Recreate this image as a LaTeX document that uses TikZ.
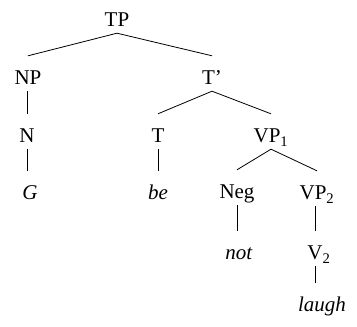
\documentclass[tikz,border=0pt]{standalone}
\usepackage{fontspec}
\setmainfont{Liberation Serif}
\begin{document}
\begin{tikzpicture}[x=1pt,y=1pt,
  lab/.style={anchor=base, inner sep=0pt, text height=29pt, text depth=6pt, font=\fontsize{21}{25}\selectfont},
  edge/.style={line width=0.8pt}]
\useasboundingbox (0,0) rectangle (357,327);
\node[lab] (TP) at (117,300) {TP};
\node[lab] (NP) at (28,242) {NP};
\node[lab] (Tbar) at (212,242) {T’};
\node[lab] (N) at (27,184) {N};
\node[lab] (T) at (158,184) {T};
\node[lab] (VP1) at (271,184) {VP\textsubscript{1}};
\node[lab] (G) at (30,127) {\textit{G}};
\node[lab] (be) at (158,127) {\textit{be}};
\node[lab] (Neg) at (237,128) {Neg};
\node[lab] (VP2) at (317,127) {VP\textsubscript{2}};
\node[lab] (not) at (239,67) {\textit{not}};
\node[lab] (V2) at (319,67) {V\textsubscript{2}};
\node[lab] (laugh) at (322,15) {\textit{laugh}};
\draw[edge] (TP.south) -- (NP.north);
\draw[edge] (TP.south) -- (Tbar.north);
\draw[edge] ([xshift=-1pt]NP.south) -- ([xshift=-1pt]NP.south |- N.north);
\draw[edge] (N.south) -- (N.south |- G.north);
\draw[edge] (Tbar.south) -- (T.north);
\draw[edge] (Tbar.south) -- (VP1.north);
\draw[edge] (T.south) -- (be.north);
\draw[edge] (VP1.south) -- (Neg.north);
\draw[edge] (VP1.south) -- (VP2.north);
\draw[edge] (Neg.south) -- (Neg.south |- not.north);
\draw[edge] ([xshift=-2pt]VP2.south) -- ([xshift=-2pt]VP2.south |- V2.north);
\draw[edge] ([xshift=-4pt]V2.south) -- ([xshift=-4pt]V2.south |- laugh.north);
\end{tikzpicture}
\end{document}
